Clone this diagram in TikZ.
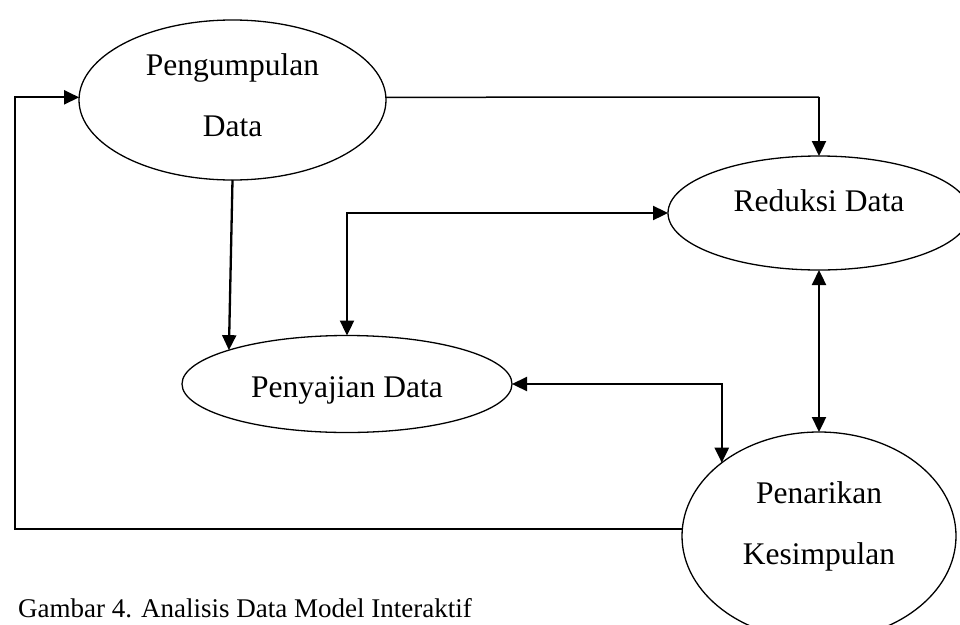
\documentclass[tikz,border=0pt]{standalone}
\usepackage{fontspec}
\setmainfont{Liberation Serif}
\usetikzlibrary{arrows.meta,shapes.geometric}
\begin{document}
\begin{tikzpicture}[x=1pt,y=-1pt,
  proc/.style={ellipse, draw, line width=1.3pt, inner sep=0pt, outer sep=0pt,
               font=\fontsize{31.5}{61}\selectfont},
  conn/.style={line width=2.3pt},
  tip/.style={-{Triangle[length=15pt,width=14pt]}},
  tips/.style={{Triangle[length=15pt,width=14pt]}-{Triangle[length=15pt,width=14pt]}}]
\useasboundingbox (0,0) rectangle (960,624);
\fill[white] (0,0) rectangle (960,624);

\node[proc, align=center, minimum width=307pt, minimum height=160pt] (peng) at (232.5,100)
  {\rule{0pt}{25pt}Pengumpulan\\Data\rule[-14pt]{0pt}{14pt}};
\node[proc, minimum width=302pt, minimum height=114pt, text height=10pt, text depth=12.6pt] (redu) at (819,213)
  {Reduksi Data};
\node[proc, minimum width=330pt, minimum height=97pt, text height=30pt, text depth=4pt] (peny) at (347,384)
  {Penyajian Data};
\node[proc, align=center, minimum width=274pt, minimum height=208pt] (pena) at (819,536)
  {\rule{0pt}{25pt}Penarikan\\Kesimpulan\rule[-30pt]{0pt}{30pt}};

\coordinate (tr) at (819,97);
\coordinate (lx) at (15,300);

\draw[line width=1.5pt] (peng.1) -- (tr);
\draw[conn, tip] (tr) -- (redu.north);
\draw[conn, tip] (peng.south) -- (peny.164);
\draw[conn, tips] (redu.west) -| (peny.north);
\draw[conn, tips] (peny.east) -| (pena.143);
\draw[conn, tips] (redu.south) -- (pena.north);
\draw[conn, tip] (pena.177) -| (lx) |- (peng.179);

\node[anchor=base west, inner sep=0pt, font=\fontsize{27}{32}\selectfont] (cap) at (18,617)
  {Gambar 4. Analisis Data Model Interaktif};
\end{tikzpicture}
\end{document}
